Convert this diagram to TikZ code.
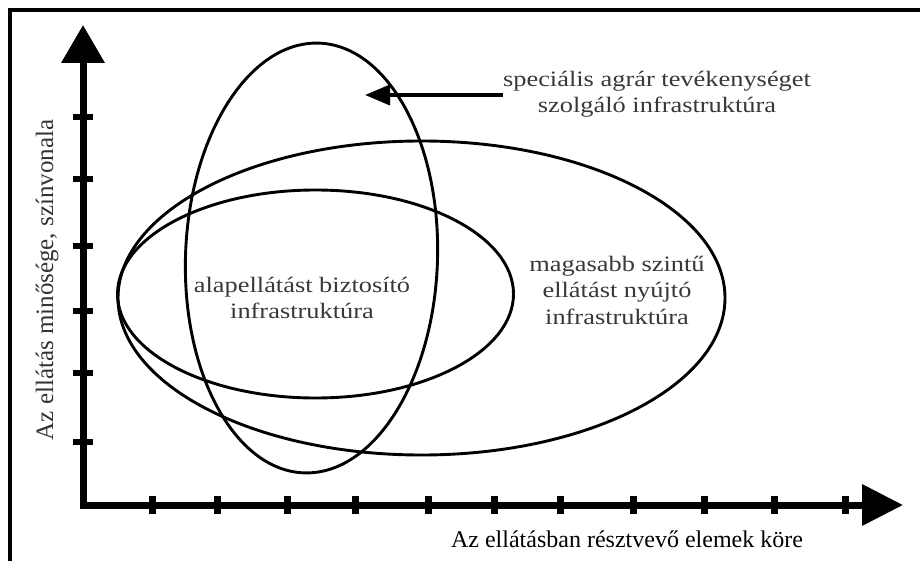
\documentclass[tikz,border=0pt]{standalone}
\usepackage{fontspec}
\setmainfont{Liberation Serif}
\newfontfamily\widefont[FakeStretch=1.2]{Liberation Serif}
\usetikzlibrary{shapes.geometric,arrows.meta}
\tikzset{
  frameline/.style={line width=4pt, line join=miter},
  axisline/.style={line width=7pt, line join=miter,
    {Triangle[length=38pt,width=42pt]}-{Triangle[length=41pt,width=40pt]}},
  vtick/.style={line width=6pt},
  htick/.style={line width=7pt},
  oval/.style={ellipse, draw, line width=2.9pt, inner sep=0pt},
  lbl/.style={font=\widefont\fontsize{22}{26.5}\selectfont, align=center, text=black!78, inner sep=0pt},
  pointer/.style={line width=3.8pt, -{Triangle[length=25pt,width=20pt]}}
}
\begin{document}
\begin{tikzpicture}[x=1pt,y=-1pt]
\useasboundingbox (0,0) rectangle (920,561);
% frame
\draw[frameline] (9.5,561) -- (9.5,10) -- (920,10);
% axes
\coordinate (ytip) at (83,25);
\coordinate (corner) at (83,505);
\coordinate (xtip) at (903,505);
\draw[axisline] (ytip) -- (corner) -- (xtip);
\foreach \y in {117,179,246,311,373,442} \draw[vtick] (73,\y) -- (93,\y);
\foreach \x in {152,217,287,355,428,494,560,633,704,774,845} \draw[htick] (\x,496) -- (\x,514);
% ellipses
\node[oval, minimum width=607pt, minimum height=314pt] (high) at (421.5,298) {};
\node[oval, minimum width=396pt, minimum height=208pt] (basic) at (315.5,294) {};
\node[oval, minimum width=252pt, minimum height=430pt, rotate=-2] (spec) at (311.5,258) {};
% labels
\node[lbl] (speclbl) at (657,94) {speciális agrár tevékenységet\\szolgáló infrastruktúra};
\node[lbl] (basiclbl) at (302,298) {alapellátást biztosító\\infrastruktúra};
\node[lbl] (highlbl) at (617,290) {magasabb szintű\\ellátást nyújtó\\infrastruktúra};
\node[font=\fontsize{24}{28}\selectfont, anchor=base, inner sep=0pt] (xlbl) at (627,547) {Az ellátásban résztvevő elemek köre};
\node[font=\fontsize{25}{29}\selectfont, anchor=base, rotate=90, text=black!80, inner sep=0pt] (ylbl) at (53,280) {Az ellátás minősége, színvonala};
% pointer
\coordinate (ptip) at (365,95);
\draw[pointer] (ptip -| speclbl.west) -- (ptip);
\end{tikzpicture}
\end{document}
